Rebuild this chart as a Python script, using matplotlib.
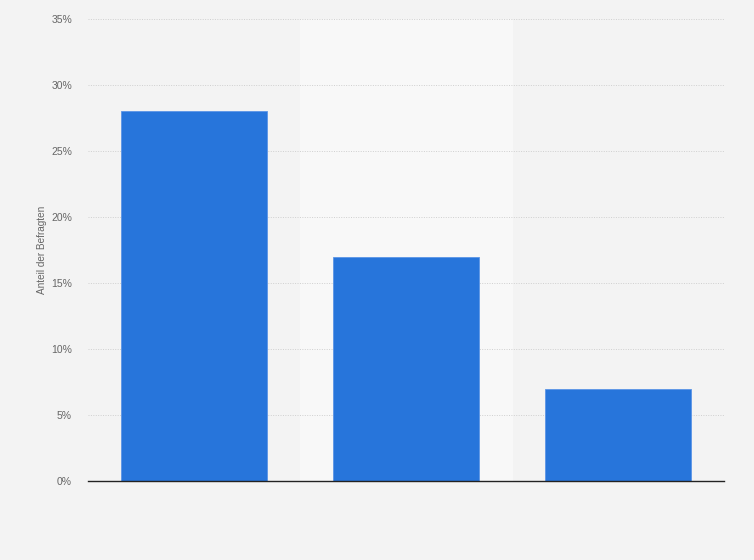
import matplotlib.pyplot as plt
from matplotlib.ticker import FuncFormatter

plt.rcParams["font.family"] = ["Liberation Sans", "DejaVu Sans"]

# data
categories = ["A", "B", "C"]
values = [28, 17, 7]
y_ticks = [0, 5, 10, 15, 20, 25, 30, 35]

fig = plt.figure(figsize=(7.54, 5.60), dpi=100, facecolor="#f3f3f3")
ax = fig.add_axes([0.1167, 0.141, 0.8435, 0.825])
ax.set_facecolor("#f3f3f3")

x = list(range(len(categories)))

# lighter band behind every second category
for i in x:
    if i % 2 == 1:
        ax.axvspan(i - 0.5, i + 0.5, color="#f8f8f8", zorder=0)

ax.bar(x, values, width=0.69, color="#2775db", edgecolor="#5b95e6", linewidth=0.6, zorder=3)

ax.set_xlim(-0.5, len(categories) - 0.5)
ax.set_ylim(0, 35)
ax.set_yticks(y_ticks)
ax.yaxis.set_major_formatter(FuncFormatter(lambda v, p: f"{v:.0f}%"))
ax.set_xticks([])

ax.grid(axis="y", color="#cfcfcf", linestyle=(0, (1, 1.5)), linewidth=0.7, zorder=1)
for s in ["top", "right", "left"]:
    ax.spines[s].set_visible(False)
ax.spines["bottom"].set_color("#222222")
ax.spines["bottom"].set_linewidth(1.0)
ax.spines["bottom"].set_zorder(4)

ax.tick_params(axis="y", length=0, pad=11.5, labelsize=7.5, labelcolor="#666666")
ax.set_ylabel("Anteil der Befragten", fontsize=7.2, color="#666666")
ax.yaxis.set_label_coords(-0.065, 0.5)

fig.savefig("out.png", dpi=100, facecolor=fig.get_facecolor())
